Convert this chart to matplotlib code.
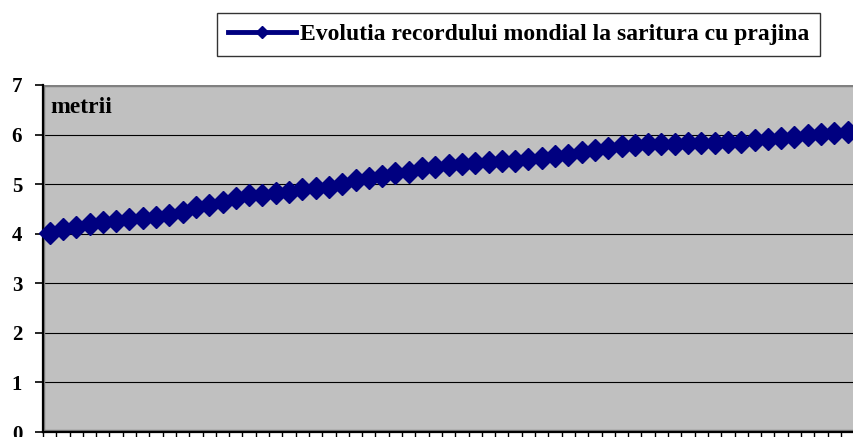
import matplotlib
matplotlib.use("Agg")
import matplotlib.pyplot as plt
from matplotlib.lines import Line2D
from matplotlib.patches import Rectangle

# Data (metres), one point per record
values = [4.02, 4.09, 4.14, 4.19, 4.24, 4.26, 4.29, 4.31, 4.34, 4.38,
          4.43, 4.54, 4.58, 4.63, 4.72, 4.78, 4.78, 4.82, 4.85, 4.90,
          4.92, 4.95, 5.00, 5.09, 5.13, 5.17, 5.23, 5.25, 5.32, 5.34,
          5.38, 5.40, 5.42, 5.44, 5.47, 5.47, 5.50, 5.52, 5.56, 5.59,
          5.64, 5.69, 5.72, 5.76, 5.79, 5.80, 5.81, 5.81, 5.82, 5.83,
          5.83, 5.85, 5.86, 5.89, 5.91, 5.93, 5.96, 5.99, 6.01, 6.03,
          6.06, 6.08]
y_ticks = [0, 1, 2, 3, 4, 5, 6, 7]
series_label = "Evolutia recordului mondial la saritura cu prajina"
unit_label = "metrii"

serif = ["Liberation Serif", "DejaVu Serif"]
navy = "#000080"
gray_bg = "#C0C0C0"

fig = plt.figure(figsize=(8.54, 4.37), dpi=100)
W, H = 854, 437
left_px, right_px, top_px, bottom_px = 43, 43 + 62 * 13.3, 85, 432
ax = fig.add_axes([left_px / W, (H - bottom_px) / H,
                   (right_px - left_px) / W, (bottom_px - top_px) / H])
ax.set_facecolor(gray_bg)

x = list(range(len(values)))
ax.plot(x, values, color=navy, lw=3, marker="D", markersize=11,
        markeredgecolor=navy, markerfacecolor=navy, zorder=3, clip_on=False)

ax.set_xlim(-0.5, 61.5)
ax.set_ylim(0, 7)
ax.set_yticks(y_ticks)
ax.set_yticklabels([str(t) for t in y_ticks], fontfamily=serif,
                   fontweight="bold", fontsize=15)
ax.set_xticks([k - 0.5 for k in range(0, 63)])
ax.set_xticklabels([])
ax.tick_params(axis="y", direction="out", length=6, width=1.2, pad=9,
               color="black")
ax.tick_params(axis="x", direction="out", length=6, width=1.0,
               color="black")

ax.yaxis.grid(True, color="black", lw=0.8, zorder=1)
gl = ax.get_ygridlines()
gl[0].set_visible(False)
gl[-1].set_visible(False)
ax.set_axisbelow(True)

# plot-area gray border
ax.add_patch(Rectangle((0, 0), 1, 1, transform=ax.transAxes, fill=False,
                       ec="#808080", lw=3.2, zorder=1.5))
for s in ["left", "bottom"]:
    ax.spines[s].set_color("black")
    ax.spines[s].set_linewidth(1.6)
ax.spines["top"].set_visible(False)
ax.spines["right"].set_visible(False)

ax.text(0.009, 0.965, unit_label, transform=ax.transAxes, fontfamily=serif,
        fontweight="bold", fontsize=17, va="top", ha="left")

handle = Line2D([], [], color=navy, lw=3.5, marker="D", markersize=6,
                markerfacecolor=navy, markeredgecolor=navy)
leg = fig.legend([handle], [series_label], loc="upper right",
                 bbox_to_anchor=(820 / W, (H - 13) / H), borderaxespad=0,
                 frameon=True, fancybox=False, handlelength=2.9,
                 handletextpad=0.15, borderpad=0.45,
                 prop={"family": serif, "weight": "bold", "size": 17})
leg.get_frame().set_edgecolor("black")
leg.get_frame().set_linewidth(1.0)

fig.savefig("out.png", dpi=100, facecolor="white")
